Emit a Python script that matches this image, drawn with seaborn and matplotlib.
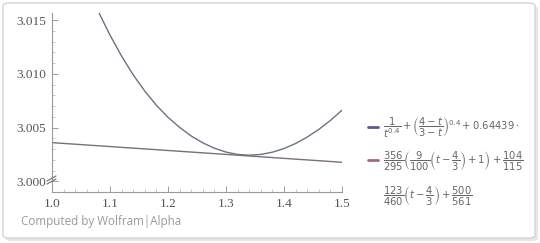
import matplotlib
matplotlib.use("Agg")
import matplotlib.pyplot as plt
import seaborn as sns
import numpy as np
import pandas as pd
from matplotlib.patches import FancyBboxPatch
from matplotlib.lines import Line2D
from matplotlib.ticker import MultipleLocator

# ---- data ----
t_curve = [1.08, 1.10, 1.12, 1.14, 1.16, 1.18, 1.20, 1.22, 1.24, 1.26, 1.28,
           1.30, 1.32, 1.34, 1.36, 1.38, 1.40, 1.42, 1.44, 1.46, 1.48, 1.50]
y_curve = [3.0158, 3.01362, 3.01166, 3.00992, 3.0084, 3.00708, 3.00596,
           3.00502, 3.00422, 3.00358, 3.00308, 3.00272, 3.0025, 3.00243,
           3.0025, 3.00271, 3.00305, 3.00352, 3.00412, 3.00483, 3.00567,
           3.00662]
t_line = [1.0, 1.5]
y_line = [3.0036, 3.00177]
x_ticks = [1.0, 1.1, 1.2, 1.3, 1.4, 1.5]
y_ticks = [3.000, 3.005, 3.010, 3.015]
legend_labels = [
    r"$\dfrac{1}{t^{0.4}}+\left(\dfrac{4-t}{3-t}\right)^{0.4}+0.64439\cdot$",
    r"$\dfrac{356}{295}\left(\dfrac{9}{100}\left(t-\dfrac{4}{3}\right)+1\right)+\dfrac{104}{115}$",
    r"$\dfrac{123}{460}\left(t-\dfrac{4}{3}\right)+\dfrac{500}{561}$",
]
series_colors = ["#6f6f85", "#7d6f74"]
swatch_colors = ["#5a5a92", "#a06a7c"]

sns.set_theme(style="white")
plt.rcParams["mathtext.fontset"] = "dejavusans"

W, H = 540, 243
fig = plt.figure(figsize=(W / 100, H / 100), dpi=100)
fig.patch.set_facecolor("white")

def fx(px):
    return px / W

def fy(py):
    return 1 - py / H

# frame with shadow
shadow = FancyBboxPatch((fx(5), fy(241)), fx(533), fy(6) - fy(241),
                        boxstyle="round,pad=0,rounding_size=0.012",
                        transform=fig.transFigure, facecolor="#e6e6e6",
                        edgecolor="none", zorder=-2)
fig.patches.append(shadow)
frame = FancyBboxPatch((fx(3), fy(238)), fx(532), fy(3) - fy(238),
                       boxstyle="round,pad=0,rounding_size=0.012",
                       transform=fig.transFigure, facecolor="white",
                       edgecolor="#d4d4d4", linewidth=1.0, zorder=-1)
fig.patches.append(frame)

ax = fig.add_axes([fx(52), fy(192), fx(342) - fx(52), fy(13) - fy(192)])
ax.set_facecolor("none")
ax.set_zorder(1)

df_c = pd.DataFrame({"t": t_curve, "y": y_curve})
df_l = pd.DataFrame({"t": t_line, "y": y_line})
sns.lineplot(data=df_c, x="t", y="y", ax=ax, color=series_colors[0],
             linewidth=1.0, sort=False)
sns.lineplot(data=df_l, x="t", y="y", ax=ax, color=series_colors[1],
             linewidth=1.0, sort=False)

ax.set_xlim(1.0, 1.5)
ax.set_ylim(2.999, 3.01568)
ax.set_xlabel("")
ax.set_ylabel("")
ax.set_xticks(x_ticks)
ax.set_xticklabels([f"{v:.1f}" for v in x_ticks], fontfamily="Liberation Serif")
ax.set_yticks(y_ticks)
ax.set_yticklabels([f"{v:.3f}" for v in y_ticks], fontfamily="Liberation Serif")
ax.xaxis.set_minor_locator(MultipleLocator(0.02))
ax.yaxis.set_minor_locator(MultipleLocator(0.001))

for s in ["top", "right"]:
    ax.spines[s].set_visible(False)
for s in ["left", "bottom"]:
    ax.spines[s].set_color("#9a9a9a")
    ax.spines[s].set_linewidth(0.8)

ax.tick_params(which="major", direction="in", length=4, width=0.7,
               color="#9a9a9a", labelsize=9.5, labelcolor="#555555", pad=4,
               left=True, bottom=True)
ax.tick_params(which="minor", direction="in", length=2, width=0.5,
               color="#b0b0b0", left=True, bottom=True)

# axis break marks
for off in (0, 3):
    fig.add_artist(Line2D([fx(47), fx(56)], [fy(181 + off), fy(176 + off)],
                          transform=fig.transFigure, color="#777777",
                          linewidth=0.9, zorder=3))

# legend
rows_y = [128, 161, 196]
for i in range(2):
    fig.add_artist(Line2D([fx(368), fx(378)], [fy(rows_y[i] - 1), fy(rows_y[i] - 1)],
                          transform=fig.transFigure, color=swatch_colors[i],
                          linewidth=2.0))
for i, lab in enumerate(legend_labels):
    fig.text(fx(383), fy(rows_y[i]), lab, fontsize=7.2, color="#666666",
             ha="left", va="center")

fig.text(fx(21), fy(222), "Computed by Wolfram|Alpha", fontsize=8.4,
         color="#9a9a9a", family=["Open Sans", "DejaVu Sans"],
         ha="left", va="center")

fig.savefig("out.png", dpi=100, facecolor="white")
